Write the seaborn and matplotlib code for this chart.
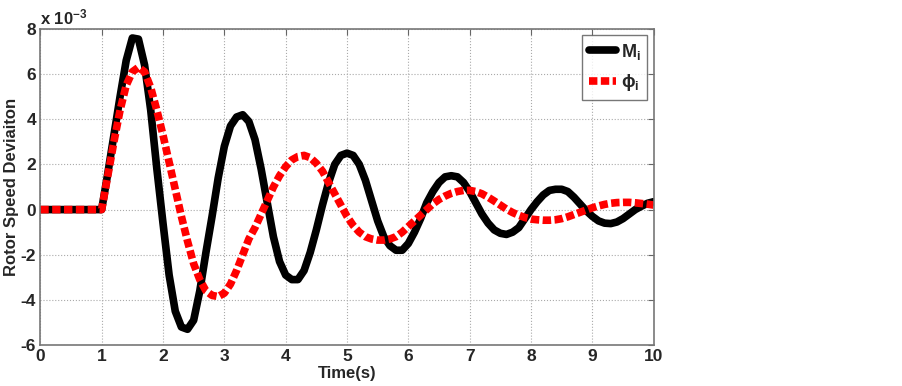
import numpy as np
import pandas as pd
import seaborn as sns
import matplotlib.pyplot as plt

# === Data (values in units of 1e-3) ===
time = [round(0.1 * i, 1) for i in range(101)]

m_i = [0.0] * 10 + [
    0.0, 1.6, 3.3, 5.0, 6.6, 7.6, 7.55, 6.4, 4.4, 1.8,
    -0.6, -2.9, -4.5, -5.2, -5.3, -4.9, -3.6, -1.9, -0.3, 1.4,
    2.8, 3.7, 4.1, 4.2, 3.9, 3.1, 1.8, 0.3, -1.2, -2.3,
    -2.9, -3.1, -3.1, -2.7, -1.9, -0.9, 0.2, 1.2, 2.0, 2.4,
    2.5, 2.4, 2.0, 1.3, 0.4, -0.5, -1.2, -1.6, -1.8, -1.8,
    -1.5, -1.0, -0.4, 0.3, 0.8, 1.2, 1.45, 1.5, 1.45, 1.2,
    0.8, 0.3, -0.2, -0.6, -0.9, -1.05, -1.1, -1.0, -0.8, -0.4,
    0.0, 0.35, 0.65, 0.85, 0.9, 0.9, 0.8, 0.55, 0.25, -0.05,
    -0.3, -0.5, -0.6, -0.62, -0.55, -0.4, -0.2, 0.0, 0.15, 0.28,
    0.35,
]

phi_i = [0.0] * 10 + [
    0.0, 1.5, 3.0, 4.4, 5.5, 6.1, 6.3, 6.1, 5.4, 4.4,
    3.3, 2.1, 0.9, -0.3, -1.4, -2.4, -3.1, -3.6, -3.8, -3.85,
    -3.7, -3.3, -2.7, -2.0, -1.3, -0.8, -0.2, 0.4, 1.0, 1.5,
    1.9, 2.2, 2.35, 2.4, 2.3, 2.05, 1.7, 1.2, 0.7, 0.2,
    -0.3, -0.7, -1.0, -1.2, -1.3, -1.35, -1.35, -1.3, -1.2, -1.0,
    -0.75, -0.5, -0.25, 0.0, 0.25, 0.45, 0.6, 0.72, 0.8, 0.85,
    0.85, 0.8, 0.7, 0.55, 0.38, 0.2, 0.02, -0.13, -0.25, -0.35,
    -0.42, -0.45, -0.47, -0.47, -0.45, -0.4, -0.32, -0.22, -0.12, -0.02,
    0.08, 0.16, 0.23, 0.28, 0.31, 0.32, 0.32, 0.3, 0.27, 0.24,
    0.2,
]

x_ticks = list(range(0, 11))
y_ticks = [-6, -4, -2, 0, 2, 4, 6, 8]

df = pd.DataFrame({"Time": time, "M": m_i, "phi": phi_i})

# === Style ===
sns.set_style("white")
plt.rcParams['font.family'] = ['Liberation Sans', 'DejaVu Sans']
plt.rcParams['font.weight'] = 'bold'
plt.rcParams['mathtext.default'] = 'regular'
plt.rcParams['axes.unicode_minus'] = False

fig = plt.figure(figsize=(9.02, 3.86), dpi=100)
ax = fig.add_axes([0.0447, 0.106, 0.680, 0.819])

sns.lineplot(data=df, x="Time", y="M", ax=ax, color="black", linewidth=5.5,
             label=r"M$_i$")
sns.lineplot(data=df, x="Time", y="phi", ax=ax, color="red", linewidth=5.5,
             label=r"$\phi_i$")
ax.lines[0].set_solid_joinstyle("round")
ax.lines[0].set_solid_capstyle("round")
ax.lines[1].set_linestyle((0, (1.1, 0.45)))
ax.lines[1].set_dash_capstyle("butt")
ax.lines[1].set_dash_joinstyle("round")

ax.set_xlim(0, 10)
ax.set_ylim(-6, 8)
ax.set_xticks(x_ticks)
ax.set_yticks(y_ticks)
ax.grid(True, linestyle=':', color='#aaaaaa', linewidth=0.8)
ax.tick_params(direction='in', length=4, color='#666666', labelsize=12.5,
               top=True, right=True, pad=3)
for lab in ax.get_xticklabels() + ax.get_yticklabels():
    lab.set_fontweight('bold')
for s in ax.spines.values():
    s.set_color('#777777')
    s.set_linewidth(1.2)

ax.set_xlabel("Time(s)", fontsize=12, fontweight='bold', labelpad=1)
ax.set_ylabel("Rotor Speed Deviaiton", fontsize=12, fontweight='bold', labelpad=1)
ax.text(0.0, 1.005, r"x 10$^{-3}$", transform=ax.transAxes, fontsize=12,
        fontweight='bold', ha='left', va='bottom')

leg = ax.legend(loc='upper right', fontsize=13, handlelength=1.5,
                frameon=True, fancybox=False, borderpad=0.35,
                labelspacing=0.6, handletextpad=0.3, borderaxespad=0.35)
leg.get_frame().set_edgecolor('#555555')
leg.get_frame().set_linewidth(1.0)
for t in leg.get_texts():
    t.set_fontweight('bold')

plt.savefig("out.png", dpi=100)
plt.close()
